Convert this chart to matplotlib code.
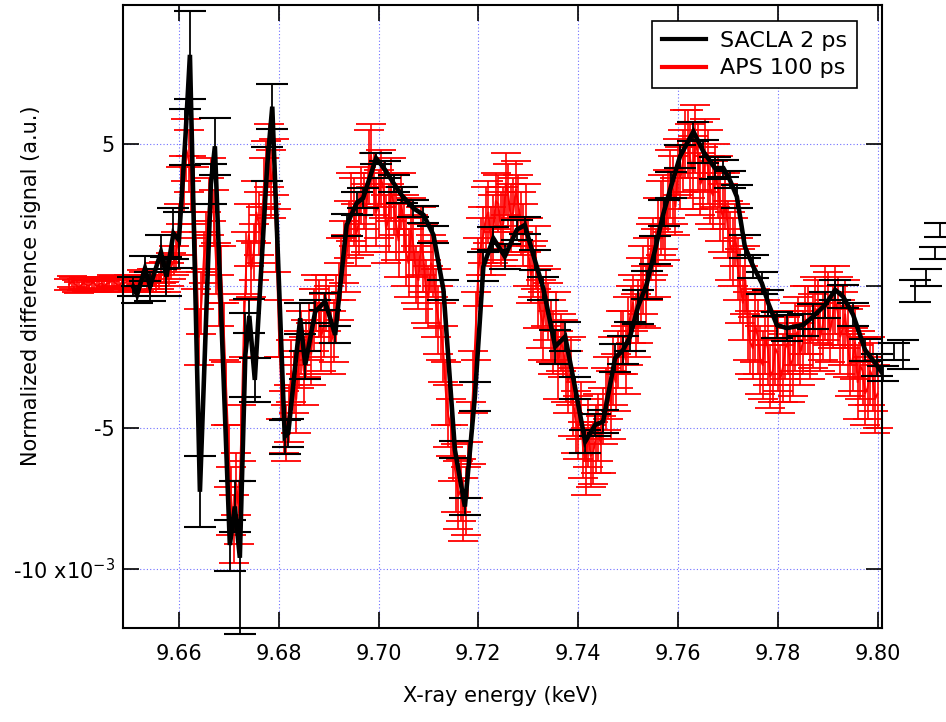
import numpy as np
import matplotlib
matplotlib.use("Agg")
import matplotlib.pyplot as plt
from matplotlib.lines import Line2D

# SACLA 2 ps (black), units of 1e-3
sacla_energy = [9.6508, 9.6516, 9.6532, 9.6542, 9.6564, 9.6575, 9.6589, 9.6600, 9.6613, 9.6622,
                9.6642, 9.6664, 9.6672, 9.6702, 9.6712, 9.6722, 9.6733, 9.6741, 9.6752, 9.6777,
                9.6787, 9.6812, 9.6819, 9.6843, 9.6853, 9.6873, 9.6893, 9.6913, 9.6936, 9.6956,
                9.6969, 9.6995, 9.7013, 9.7030, 9.7046, 9.7070, 9.7090, 9.7110, 9.7130, 9.7153,
                9.7173, 9.7193, 9.7210, 9.7230, 9.7253, 9.7277, 9.7293, 9.7313, 9.7330, 9.7354,
                9.7374, 9.7394, 9.7414, 9.7434, 9.7450, 9.7474, 9.7490, 9.7504, 9.7520, 9.7537,
                9.7554, 9.7571, 9.7587, 9.7604, 9.7631, 9.7651, 9.7674, 9.7691, 9.7704, 9.7718,
                9.7734, 9.7751, 9.7768, 9.7781, 9.7798, 9.7818, 9.7851, 9.7871, 9.7895, 9.7915,
                9.7931, 9.7951, 9.7975, 9.7998, 9.8010, 9.8033, 9.8050, 9.8074, 9.8097, 9.8115,
                9.8125]
sacla_signal = [-0.02, -0.32, 0.62, -0.02, 1.19, 0.33, 1.86, 1.62, 5.26, 8.16,
                -7.27, 3.60, 4.93, -9.15, -7.79, -9.60, -2.44, -1.06, -3.32, 4.30,
                6.33, -5.32, -5.20, -1.14, -2.79, -0.91, -0.55, -1.73, 2.15, 2.92,
                3.10, 4.51, 4.10, 3.63, 3.21, 2.74, 2.51, 1.80, -0.14, -5.79,
                -7.79, -3.91, 0.68, 1.68, 1.04, 1.98, 2.15, 0.92, -0.08, -2.14,
                -1.79, -3.61, -5.50, -4.91, -4.79, -2.55, -2.26, -1.79, -0.73, 0.04,
                1.27, 2.57, 3.57, 4.57, 5.45, 4.74, 4.16, 4.16, 3.74, 3.15,
                1.39, 0.68, 0.10, -0.61, -1.38, -1.49, -1.38, -1.08, -0.67, -0.14,
                -0.38, -1.02, -2.26, -2.79, -3.10, -2.31, -2.42, -0.18, 0.28, 1.17,
                1.98]
sacla_error = [0.35, 0.30, 0.45, 0.50, 0.60, 0.70, 0.90, 1.00, 1.00, 1.55,
               1.25, 0.70, 1.00, 0.90, 0.90, 2.70, 1.50, 0.60, 0.77, 0.60,
               0.80, 0.60, 0.50, 0.55, 0.50, 0.40, 0.30, 0.30, 0.40, 0.40,
               0.35, 0.20, 0.30, 0.30, 0.30, 0.30, 0.30, 0.30, 0.35, 0.30,
               0.30, 0.50, 0.50, 0.40, 0.45, 0.35, 0.30, 0.35, 0.40, 0.60,
               0.50, 0.40, 0.40, 0.40, 0.40, 0.50, 0.50, 0.50, 0.60, 0.50,
               0.50, 0.45, 0.45, 0.40, 0.35, 0.40, 0.40, 0.30, 0.30, 0.40,
               0.40, 0.40, 0.40, 0.45, 0.45, 0.45, 0.40, 0.45, 0.45, 0.35,
               0.40, 0.40, 0.40, 0.40, 0.27, 0.30, 0.50, 0.40, 0.30, 0.22,
               0.25]

# APS 100 ps (red), 0.5 eV scan
aps_energy = [
    9.6380, 9.6385, 9.6390, 9.6395, 9.6400, 9.6405, 9.6410, 9.6415, 9.6420, 9.6425,
    9.6430, 9.6435, 9.6440, 9.6445, 9.6450, 9.6455, 9.6460, 9.6465, 9.6470, 9.6475,
    9.6480, 9.6485, 9.6490, 9.6495, 9.6500, 9.6505, 9.6510, 9.6515, 9.6520, 9.6525,
    9.6530, 9.6535, 9.6540, 9.6545, 9.6550, 9.6555, 9.6560, 9.6565, 9.6570, 9.6575,
    9.6580, 9.6585, 9.6590, 9.6595, 9.6600, 9.6605, 9.6610, 9.6615, 9.6620, 9.6625,
    9.6630, 9.6635, 9.6640, 9.6645, 9.6650, 9.6655, 9.6660, 9.6665, 9.6670, 9.6675,
    9.6680, 9.6685, 9.6690, 9.6695, 9.6700, 9.6705, 9.6710, 9.6715, 9.6720, 9.6725,
    9.6730, 9.6735, 9.6740, 9.6745, 9.6750, 9.6755, 9.6760, 9.6765, 9.6770, 9.6775,
    9.6780, 9.6785, 9.6790, 9.6795, 9.6800, 9.6805, 9.6810, 9.6815, 9.6820, 9.6825,
    9.6830, 9.6835, 9.6840, 9.6845, 9.6850, 9.6855, 9.6860, 9.6865, 9.6870, 9.6875,
    9.6880, 9.6885, 9.6890, 9.6895, 9.6900, 9.6905, 9.6910, 9.6915, 9.6920, 9.6925,
    9.6930, 9.6935, 9.6940, 9.6945, 9.6950, 9.6955, 9.6960, 9.6965, 9.6970, 9.6975,
    9.6980, 9.6985, 9.6990, 9.6995, 9.7000, 9.7005, 9.7010, 9.7015, 9.7020, 9.7025,
    9.7030, 9.7035, 9.7040, 9.7045, 9.7050, 9.7055, 9.7060, 9.7065, 9.7070, 9.7075,
    9.7080, 9.7085, 9.7090, 9.7095, 9.7100, 9.7105, 9.7110, 9.7115, 9.7120, 9.7125,
    9.7130, 9.7135, 9.7140, 9.7145, 9.7150, 9.7155, 9.7160, 9.7165, 9.7170, 9.7175,
    9.7180, 9.7185, 9.7190, 9.7195, 9.7200, 9.7205, 9.7210, 9.7215, 9.7220, 9.7225,
    9.7230, 9.7235, 9.7240, 9.7245, 9.7250, 9.7255, 9.7260, 9.7265, 9.7270, 9.7275,
    9.7280, 9.7285, 9.7290, 9.7295, 9.7300, 9.7305, 9.7310, 9.7315, 9.7320, 9.7325,
    9.7330, 9.7335, 9.7340, 9.7345, 9.7350, 9.7355, 9.7360, 9.7365, 9.7370, 9.7375,
    9.7380, 9.7385, 9.7390, 9.7395, 9.7400, 9.7405, 9.7410, 9.7415, 9.7420, 9.7425,
    9.7430, 9.7435, 9.7440, 9.7445, 9.7450, 9.7455, 9.7460, 9.7465, 9.7470, 9.7475,
    9.7480, 9.7485, 9.7490, 9.7495, 9.7500, 9.7505, 9.7510, 9.7515, 9.7520, 9.7525,
    9.7530, 9.7535, 9.7540, 9.7545, 9.7550, 9.7555, 9.7560, 9.7565, 9.7570, 9.7575,
    9.7580, 9.7585, 9.7590, 9.7595, 9.7600, 9.7605, 9.7610, 9.7615, 9.7620, 9.7625,
    9.7630, 9.7635, 9.7640, 9.7645, 9.7650, 9.7655, 9.7660, 9.7665, 9.7670, 9.7675,
    9.7680, 9.7685, 9.7690, 9.7695, 9.7700, 9.7705, 9.7710, 9.7715, 9.7720, 9.7725,
    9.7730, 9.7735, 9.7740, 9.7745, 9.7750, 9.7755, 9.7760, 9.7765, 9.7770, 9.7775,
    9.7780, 9.7785, 9.7790, 9.7795, 9.7800, 9.7805, 9.7810, 9.7815, 9.7820, 9.7825,
    9.7830, 9.7835, 9.7840, 9.7845, 9.7850, 9.7855, 9.7860, 9.7865, 9.7870, 9.7875,
    9.7880, 9.7885, 9.7890, 9.7895, 9.7900, 9.7905, 9.7910, 9.7915, 9.7920, 9.7925,
    9.7930, 9.7935, 9.7940, 9.7945, 9.7950, 9.7955, 9.7960, 9.7965, 9.7970, 9.7975,
    9.7980, 9.7985, 9.7990, 9.7995, 9.8000]
aps_signal = [
    0.05, 0.15, 0.10, 0.00, -0.05, 0.05, 0.10, 0.02, 0.00, 0.10,
    0.12, -0.03, 0.05, 0.10, -0.02, 0.08, 0.10, 0.20, 0.15, 0.05,
    0.00, 0.12, 0.08, 0.15, 0.20, 0.00, 0.05, 0.18, 0.10, 0.30,
    0.25, 0.05, 0.15, 0.35, 0.30, 0.10, 0.20, 0.45, 0.50, 0.20,
    0.40, 0.70, 0.90, 1.20, 2.0, 3.2, 3.6, 4.8, 4.4, 3.6,
    3.2, 0.8, -1.8, -0.6, 1.0, 1.6, 2.8, 3.4, 2.4, 0.6,
    -0.5, 0.4, -1.6, -3.8, -6.0, -7.6, -8.6, -7.0, -8.0, -5.2,
    -1.5, 0.8, 1.8, 0.6, 1.2, 2.6, 2.2, 1.8, 3.5, 4.0,
    4.6, 3.6, 4.2, 1.6, -1.5, -3.6, -4.8, -5.2, -4.5, -3.0,
    -3.4, -4.0, -2.6, -2.0, -3.0, -2.2, -1.6, -2.4, -1.2, -0.6,
    -0.8, -1.8, -1.4, -0.6, -1.0, -2.0, -1.6, -0.8, -0.2, 0.6,
    1.2, 0.8, 2.0, 2.8, 2.6, 1.8, 2.2, 3.2, 3.0, 2.4,
    4.2, 4.6, 3.6, 2.6, 2.9, 3.8, 3.4, 2.0, 2.4, 3.4,
    2.9, 2.2, 1.6, 3.0, 2.2, 1.2, 0.8, 2.0, 1.4, 0.4,
    0.2, 1.6, 1.0, -0.2, -0.4, 0.8, 0.6, -0.6, -1.2, -1.6,
    -2.4, -3.8, -4.6, -5.0, -5.9, -6.8, -7.4, -7.2, -7.9, -7.6,
    -6.5, -5.2, -3.4, -1.4, 0.5, 1.4, 1.8, 2.4, 2.6, 1.6,
    2.0, 3.0, 2.9, 2.0, 2.2, 3.6, 3.2, 2.4, 2.6, 3.4,
    2.9, 2.2, 1.8, 2.4, 1.2, 0.4, 0.6, 1.0, -0.4, -1.0,
    -1.4, -0.4, -0.9, -1.6, -2.0, -1.4, -2.8, -2.0, -2.2, -3.0,
    -3.4, -3.0, -4.1, -4.8, -5.0, -4.4, -5.8, -6.2, -5.2, -6.0,
    -5.9, -5.4, -5.0, -5.6, -4.6, -4.0, -3.6, -4.2, -3.0, -3.4,
    -2.6, -2.0, -2.0, -2.6, -1.6, -1.0, -0.6, -1.4, -0.9, -0.2,
    0.2, -0.4, 0.6, 1.2, 1.4, 0.8, 1.9, 2.4, 2.6, 2.0,
    3.0, 3.6, 3.4, 2.8, 4.2, 3.8, 4.4, 5.0, 5.0, 4.4,
    4.0, 5.2, 4.6, 3.6, 3.8, 4.6, 4.2, 3.4, 3.2, 3.9,
    3.5, 2.8, 2.4, 3.0, 2.0, 1.4, 1.2, 1.8, 0.6, 0.0,
    -0.6, 0.2, -1.4, -2.0, -2.2, -1.4, -1.8, -2.6, -2.8, -1.8,
    -2.2, -3.2, -3.0, -2.2, -2.4, -3.3, -2.9, -2.2, -2.0, -2.8,
    -2.6, -1.8, -1.6, -2.4, -2.0, -1.2, -1.2, -2.0, -1.6, -0.8,
    -0.9, -1.8, -1.4, -0.6, -0.8, -1.6, -1.1, -0.5, -0.9, -1.8,
    -1.5, -1.0, -2.0, -2.8, -2.6, -2.0, -3.4, -2.8, -3.0, -3.8,
    -3.6, -3.0, -3.2, -4.0, -3.8]
aps_error = [
    0.20, 0.20, 0.20, 0.20, 0.20, 0.20, 0.20, 0.20, 0.20, 0.20,
    0.20, 0.20, 0.20, 0.20, 0.20, 0.20, 0.20, 0.20, 0.20, 0.20,
    0.20, 0.20, 0.20, 0.20, 0.20, 0.20, 0.20, 0.20, 0.25, 0.25,
    0.25, 0.25, 0.25, 0.25, 0.30, 0.30, 0.30, 0.35, 0.35, 0.40,
    0.40, 0.45, 0.50, 0.70, 0.90, 1.00, 1.00, 1.10, 1.10, 1.00,
    1.00, 0.90, 1.00, 1.10, 0.90, 1.00, 1.00, 1.10, 1.00, 0.90,
    0.90, 1.00, 1.00, 1.10, 1.10, 1.20, 1.20, 1.10, 1.10, 1.00,
    1.00, 1.10, 1.10, 1.00, 1.00, 1.10, 1.10, 1.00, 1.00, 1.10,
    1.10, 1.20, 1.00, 1.10, 1.00, 1.10, 1.10, 1.00, 1.00, 1.10,
    1.10, 1.20, 1.00, 1.10, 1.20, 1.00, 1.00, 1.10, 1.10, 1.00,
    1.00, 1.20, 1.10, 1.00, 1.00, 1.10, 1.10, 1.20, 1.00, 1.10,
    1.10, 1.00, 1.00, 1.20, 1.20, 1.10, 1.10, 1.00, 1.00, 1.20,
    1.30, 1.10, 1.10, 1.20, 1.20, 1.00, 1.00, 1.20, 1.20, 1.10,
    1.10, 1.30, 1.30, 1.00, 1.00, 1.20, 1.20, 1.10, 1.10, 1.00,
    1.00, 1.20, 1.20, 1.10, 1.10, 1.00, 1.00, 1.20, 1.20, 1.00,
    1.00, 1.10, 1.10, 1.00, 1.00, 1.20, 1.20, 1.10, 1.10, 1.20,
    1.00, 1.10, 1.10, 1.20, 1.20, 1.00, 1.00, 1.10, 1.10, 1.20,
    1.20, 1.00, 1.00, 1.30, 1.30, 1.10, 1.10, 1.20, 1.20, 1.00,
    1.00, 1.10, 1.10, 1.20, 1.20, 1.00, 1.00, 1.10, 1.10, 1.20,
    1.20, 1.00, 1.00, 1.10, 1.10, 1.20, 1.20, 1.00, 1.00, 1.10,
    1.10, 1.20, 1.20, 1.10, 1.10, 1.00, 1.00, 1.20, 1.20, 1.10,
    1.10, 1.20, 1.20, 1.00, 1.00, 1.10, 1.10, 1.20, 1.20, 1.00,
    1.00, 1.10, 1.10, 1.20, 1.20, 1.00, 1.00, 1.10, 1.10, 1.20,
    1.20, 1.10, 1.10, 1.00, 1.00, 1.20, 1.20, 1.30, 1.30, 1.10,
    1.10, 1.20, 1.20, 1.00, 1.00, 1.10, 1.10, 1.20, 1.20, 1.30,
    1.30, 1.20, 1.20, 1.10, 1.10, 1.30, 1.30, 1.20, 1.20, 1.10,
    1.10, 1.20, 1.20, 1.00, 1.00, 1.20, 1.20, 1.10, 1.10, 1.30,
    1.30, 1.20, 1.20, 1.10, 1.10, 1.30, 1.30, 1.20, 1.20, 1.30,
    1.30, 1.10, 1.10, 1.30, 1.30, 1.20, 1.20, 1.10, 1.10, 1.30,
    1.30, 1.20, 1.20, 1.10, 1.10, 1.20, 1.20, 1.30, 1.30, 1.10,
    1.10, 1.20, 1.20, 1.30, 1.30, 1.10, 1.10, 1.20, 1.20, 1.30,
    1.30, 1.20, 1.20, 1.10, 1.10, 1.30, 1.30, 1.20, 1.20, 1.10,
    1.10, 1.20, 1.20, 1.20, 1.20]

ytick_vals = [5, 0, -5, -10]
ytick_text = ["5", "", "-5", "-10 x10$^{-3}$"]
xtick_vals = [9.66, 9.68, 9.70, 9.72, 9.74, 9.76, 9.78, 9.80]

plt.rcParams['font.family'] = ['DejaVu Sans']

fig = plt.figure(figsize=(9.46, 7.22), dpi=100)
ax = fig.add_axes([0.1303, 0.1298, 0.8017, 0.8633])

# red APS data (drawn unclipped, it runs past the left axis)
red = ax.errorbar(aps_energy, aps_signal, yerr=aps_error, color='#ff0000', ecolor='#ff0000',
                  lw=1.4, elinewidth=1.2, capsize=10.5, capthick=1.3, zorder=2)
red.lines[0].set_clip_on(False)
for art in list(red.lines[1]) + list(red.lines[2]):
    art.set_clip_on(False)

# black SACLA data: line clipped, error bars not
ax.plot(sacla_energy, sacla_signal, color='black', lw=3.3, zorder=4, solid_joinstyle='miter')
blk = ax.errorbar(sacla_energy, sacla_signal, yerr=sacla_error, fmt='none', ecolor='black',
                  elinewidth=1.3, capsize=11.5, capthick=1.5, zorder=3)
for art in list(blk.lines[1]) + list(blk.lines[2]):
    art.set_clip_on(False)

ax.set_xlim(9.64884, 9.80082)
ax.set_ylim(-12.09, 9.92)

ax.set_xticks(xtick_vals)
ax.set_xticklabels(["%.2f" % v for v in xtick_vals])
ax.set_yticks(ytick_vals)
ax.set_yticklabels(ytick_text)

ax.grid(True, color='#6f6fff', linestyle=(0, (1, 2)), lw=0.8)
ax.set_axisbelow(True)

ax.tick_params(direction='in', length=11.5, width=1.2, top=True, right=True, labelsize=15)
ax.tick_params(axis='x', pad=11)
ax.tick_params(axis='y', pad=6)
for s in ax.spines.values():
    s.set_linewidth(1.5)

ax.set_xlabel("X-ray energy (keV)", fontsize=15)
ax.set_ylabel("Normalized difference signal (a.u.)", fontsize=15)
ax.xaxis.set_label_coords(0.498, -0.093)
ax.yaxis.set_label_coords(-0.108, 0.55)

handles = [Line2D([], [], color='black', lw=3.0), Line2D([], [], color='#ff0000', lw=3.0)]
leg = ax.legend(handles, ["SACLA 2 ps", "APS 100 ps"], loc='upper right',
                bbox_to_anchor=(0.967, 0.975), borderaxespad=0, fancybox=False,
                framealpha=1, edgecolor='black', fontsize=16, handlelength=2.0,
                borderpad=0.45, labelspacing=0.35, handletextpad=0.6)
leg.get_frame().set_linewidth(1.2)

fig.savefig("out.png", dpi=100)
